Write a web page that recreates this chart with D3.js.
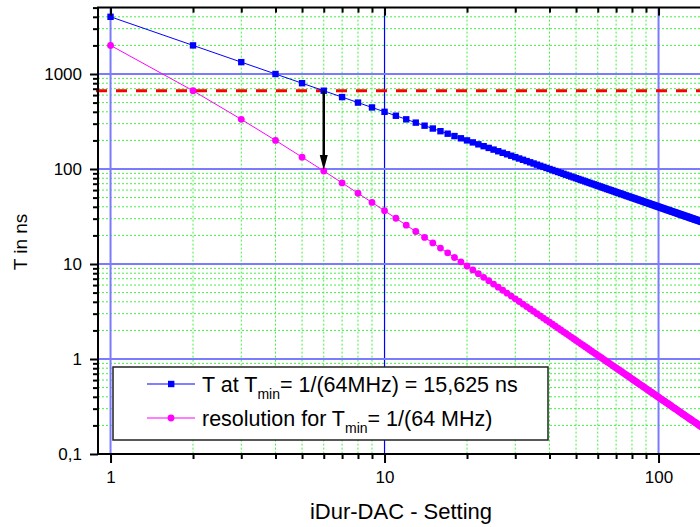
<!DOCTYPE html>
<html>
<head>
  <title>iDur-DAC</title>
  <script src="https://unpkg.com/d3@7.8.2/dist/d3.min.js"></script>
  <style>
    body { margin: 0; background: #fff; }
    text { font-family: Arial, "Liberation Sans", sans-serif; }
  </style>
</head>
<body>
<script>

  // T at Tmin = 1/(64MHz), one value per iDur-DAC setting (1, 2, 3, ...)
  const tValues = [
    4000, 2000, 1333.3, 1000, 800, 666.7, 571.4, 500, 444.4, 400,
    363.6, 333.3, 307.7, 285.7, 266.7, 250, 235.3, 222.2, 210.5, 200,
    190.5, 181.8, 173.9, 166.7, 160, 153.8, 148.1, 142.9, 137.9, 133.3,
    129.0, 125, 121.2, 117.6, 114.3, 111.1, 108.1, 105.3, 102.6, 100,
    97.6, 95.2, 93.0, 90.9, 88.9, 87.0, 85.1, 83.3, 81.6, 80,
    78.4, 76.9, 75.5, 74.1, 72.7, 71.4, 70.2, 69.0, 67.8, 66.7,
    65.6, 64.5, 63.5, 62.5, 61.5, 60.6, 59.7, 58.8, 58.0, 57.1,
    56.3, 55.6, 54.8, 54.1, 53.3, 52.6, 51.9, 51.3, 50.6, 50,
    49.4, 48.8, 48.2, 47.6, 47.1, 46.5, 46.0, 45.5, 44.9, 44.4,
    44.0, 43.5, 43.0, 42.6, 42.1, 41.7, 41.2, 40.8, 40.4, 40,
    39.6, 39.2, 38.8, 38.5, 38.1, 37.7, 37.4, 37.0, 36.7, 36.4,
    36.0, 35.7, 35.4, 35.1, 34.8, 34.5, 34.2, 33.9, 33.6, 33.3,
    33.1, 32.8, 32.5, 32.3, 32, 31.7, 31.5, 31.3, 31.0, 30.8,
    30.5, 30.3, 30.1, 29.9, 29.6, 29.4, 29.2, 29.0, 28.8, 28.6,
    28.4, 28.2, 28.0, 27.8, 27.6
  ];

  // resolution for Tmin = 1/(64 MHz)
  const resValues = [
    2000, 666.7, 333.3, 200, 133.3, 95.24, 71.43, 55.56, 44.44, 36.36,
    30.30, 25.64, 21.98, 19.05, 16.67, 14.71, 13.07, 11.70, 10.53, 9.524,
    8.658, 7.905, 7.246, 6.667, 6.154, 5.698, 5.291, 4.926, 4.598, 4.301,
    4.032, 3.788, 3.565, 3.361, 3.175, 3.003, 2.845, 2.699, 2.564, 2.439,
    2.323, 2.215, 2.114, 2.020, 1.932, 1.850, 1.773, 1.701, 1.633, 1.569,
    1.508, 1.451, 1.398, 1.347, 1.299, 1.253, 1.210, 1.169, 1.130, 1.093,
    1.058, 1.024, 0.992, 0.962, 0.932, 0.905, 0.878, 0.853, 0.828, 0.805,
    0.783, 0.761, 0.741, 0.721, 0.702, 0.684, 0.666, 0.650, 0.633, 0.617,
    0.602, 0.588, 0.574, 0.560, 0.547, 0.535, 0.523, 0.511, 0.499, 0.488,
    0.478, 0.467, 0.457, 0.448, 0.439, 0.430, 0.421, 0.412, 0.404, 0.396,
    0.388, 0.381, 0.373, 0.366, 0.359, 0.353, 0.346, 0.340, 0.334, 0.328,
    0.322, 0.316, 0.310, 0.305, 0.300, 0.295, 0.290, 0.285, 0.280, 0.275,
    0.271, 0.266, 0.262, 0.258, 0.254, 0.250, 0.246, 0.242, 0.238, 0.235,
    0.231, 0.228, 0.225, 0.221, 0.218, 0.215, 0.212, 0.209, 0.206, 0.203,
    0.200, 0.197, 0.195, 0.192, 0.190
  ];

  const settings = d3.range(1, tValues.length + 1);

  const tMinLine = 666.7;      // red dashed reference level
  const arrowSetting = 6;      // arrow from T to resolution
  const arrowFrom = 666.7;
  const arrowTo = 95.24;

  const xTickValues = [1, 10, 100];
  const xTickLabels = ["1", "10", "100"];
  const yTickValues = [0.1, 1, 10, 100, 1000];
  const yTickLabels = ["0,1", "1", "10", "100", "1000"];

  const width = 700;
  const height = 527;

  const svg = d3.select("body").append("svg")
    .attr("width", width)
    .attr("height", height);

  // scales (plot continues past the right edge of the picture)
  const x = d3.scaleLog()
    .domain([0.9, 250])
    .range([98, 98 + 274 * Math.log10(250 / 0.9)]);

  const y = d3.scaleLog()
    .domain([0.1, 5000])
    .range([454, 454 - 95 * Math.log10(50000)]);

  const pLeft = x.range()[0], pRight = x.range()[1];
  const pTop = y.range()[1], pBottom = y.range()[0];

  svg.append("defs").append("clipPath").attr("id", "plot")
    .append("rect")
    .attr("x", pLeft).attr("y", pTop)
    .attr("width", pRight - pLeft).attr("height", pBottom - pTop);

  // minor values
  const minorX = [];
  [1, 10, 100].forEach(d => { for (let k = 2; k <= 9; k++) minorX.push(d * k); });
  const minorY = [];
  [0.1, 1, 10, 100, 1000].forEach(d => { for (let k = 2; k <= 9; k++) if (d * k <= 5000) minorY.push(d * k); });

  // green dotted minor grid
  const grid = svg.append("g").attr("clip-path", "url(#plot)");
  grid.selectAll(".gx").data(minorX).enter().append("line")
    .attr("x1", d => x(d)).attr("x2", d => x(d))
    .attr("y1", pTop).attr("y2", pBottom)
    .style("stroke", "#44f044").style("stroke-width", 1)
    .style("stroke-dasharray", "2,2");
  grid.selectAll(".gy").data(minorY).enter().append("line")
    .attr("x1", pLeft).attr("x2", pRight)
    .attr("y1", d => y(d)).attr("y2", d => y(d))
    .style("stroke", "#44f044").style("stroke-width", 1)
    .style("stroke-dasharray", "2,2");

  // blue major grid
  grid.selectAll(".mx").data(xTickValues).enter().append("line")
    .attr("x1", d => x(d)).attr("x2", d => x(d))
    .attr("y1", pTop).attr("y2", pBottom)
    .style("stroke", d => d === 10 ? "#0000ff" : "#7b7bff")
    .style("stroke-width", d => d === 10 ? 1.2 : 2);
  grid.selectAll(".my").data(yTickValues.slice(1)).enter().append("line")
    .attr("x1", pLeft).attr("x2", pRight)
    .attr("y1", d => y(d)).attr("y2", d => y(d))
    .style("stroke", "#7b7bff").style("stroke-width", 2);

  // red dashed Tmin line
  svg.append("line")
    .attr("x1", 96).attr("x2", width)
    .attr("y1", y(tMinLine)).attr("y2", y(tMinLine))
    .style("stroke", "#ff0000").style("stroke-width", 3)
    .style("stroke-dasharray", "11,9");

  // series
  const tData = settings.map((s, i) => [s, tValues[i]]);
  const rData = settings.map((s, i) => [s, resValues[i]]);
  const line = d3.line().x(d => x(d[0])).y(d => y(d[1]));

  const plot = svg.append("g").attr("clip-path", "url(#plot)");

  plot.append("path").datum(tData).attr("d", line)
    .style("fill", "none").style("stroke", "#0000ff").style("stroke-width", 1);
  plot.selectAll(".sq").data(tData).enter().append("rect")
    .attr("x", d => x(d[0]) - 3.2).attr("y", d => y(d[1]) - 3.2)
    .attr("width", 6.4).attr("height", 6.4)
    .style("fill", "#0000ff");

  plot.append("path").datum(rData).attr("d", line)
    .style("fill", "none").style("stroke", "#ff00ff").style("stroke-width", 1);
  plot.selectAll(".ci").data(rData).enter().append("circle")
    .attr("cx", d => x(d[0])).attr("cy", d => y(d[1]))
    .attr("r", 3.4)
    .style("fill", "#ff00ff");

  // arrow
  const ax = x(arrowSetting);
  svg.append("line")
    .attr("x1", ax).attr("x2", ax)
    .attr("y1", y(arrowFrom)).attr("y2", y(arrowTo) - 12)
    .style("stroke", "#000").style("stroke-width", 2.5);
  svg.append("path")
    .attr("d", `M${ax - 4},${y(arrowTo) - 16} L${ax + 4},${y(arrowTo) - 16} L${ax},${y(arrowTo) - 1} Z`)
    .style("fill", "#000");

  // axes
  function styleAxis(g) {
    g.select(".domain").remove();
    g.selectAll("line").style("stroke", "#000").style("stroke-width", 2);
    g.selectAll("text").style("font-size", "17px").style("fill", "#000")
      .style("font-family", "Arial, 'Liberation Sans', sans-serif");
  }

  svg.append("g").attr("transform", `translate(0,${pBottom})`)
    .call(d3.axisBottom(x).tickValues(xTickValues).tickSize(9).tickPadding(8)
      .tickFormat((d, i) => xTickLabels[i]))
    .call(styleAxis);
  svg.append("g").attr("transform", `translate(0,${pBottom})`)
    .call(d3.axisBottom(x).tickValues(minorX).tickSize(5).tickFormat(""))
    .call(styleAxis);

  svg.append("g").attr("transform", `translate(0,${pTop})`)
    .call(d3.axisBottom(x).tickValues(xTickValues).tickSize(8).tickFormat(""))
    .call(styleAxis);
  svg.append("g").attr("transform", `translate(0,${pTop})`)
    .call(d3.axisBottom(x).tickValues(minorX).tickSize(5).tickFormat(""))
    .call(styleAxis);

  svg.append("g").attr("transform", `translate(${pLeft},0)`)
    .call(d3.axisLeft(y).tickValues(yTickValues).tickSize(8).tickPadding(8)
      .tickFormat((d, i) => yTickLabels[i]))
    .call(styleAxis);
  svg.append("g").attr("transform", `translate(${pLeft},0)`)
    .call(d3.axisLeft(y).tickValues(minorY).tickSize(5).tickFormat(""))
    .call(styleAxis);

  // frame
  svg.append("path")
    .attr("d", `M${width + 5},${pTop} H${pLeft} V${pBottom} H${width + 5}`)
    .style("fill", "none").style("stroke", "#000").style("stroke-width", 2);

  // axis titles
  svg.append("text")
    .attr("x", 401).attr("y", 519)
    .attr("text-anchor", "middle")
    .style("font-size", "22px")
    .text("iDur-DAC - Setting");

  svg.append("text")
    .attr("transform", "translate(27,242) rotate(-90)")
    .attr("text-anchor", "middle")
    .style("font-size", "19px")
    .text("T in ns");

  // legend
  const lg = svg.append("g");
  lg.append("rect")
    .attr("x", 113).attr("y", 367).attr("width", 435).attr("height", 73)
    .style("fill", "#fff").style("stroke", "#222").style("stroke-width", 1.5);

  const entries = [
    { color: "#0000ff", shape: "square", pre: "T at T", post: "= 1/(64MHz) = 15,625 ns", y: 384 },
    { color: "#ff00ff", shape: "circle", pre: "resolution for T", post: "= 1/(64 MHz)", y: 418 }
  ];
  entries.forEach(e => {
    lg.append("line")
      .attr("x1", 147).attr("x2", 195).attr("y1", e.y).attr("y2", e.y)
      .style("stroke", e.color).style("stroke-width", 1);
    if (e.shape === "square") {
      lg.append("rect").attr("x", 168).attr("y", e.y - 3.2)
        .attr("width", 6.4).attr("height", 6.4).style("fill", e.color);
    } else {
      lg.append("circle").attr("cx", 171).attr("cy", e.y).attr("r", 3.4)
        .style("fill", e.color);
    }
    const t = lg.append("text").attr("x", 202).attr("y", e.y + 7.5)
      .style("font-size", "21.5px");
    t.append("tspan").text(e.pre);
    t.append("tspan").attr("dy", 7).style("font-size", "14px").text("min");
    t.append("tspan").attr("dy", -7).text(e.post);
  });

</script>
</body>
</html>
